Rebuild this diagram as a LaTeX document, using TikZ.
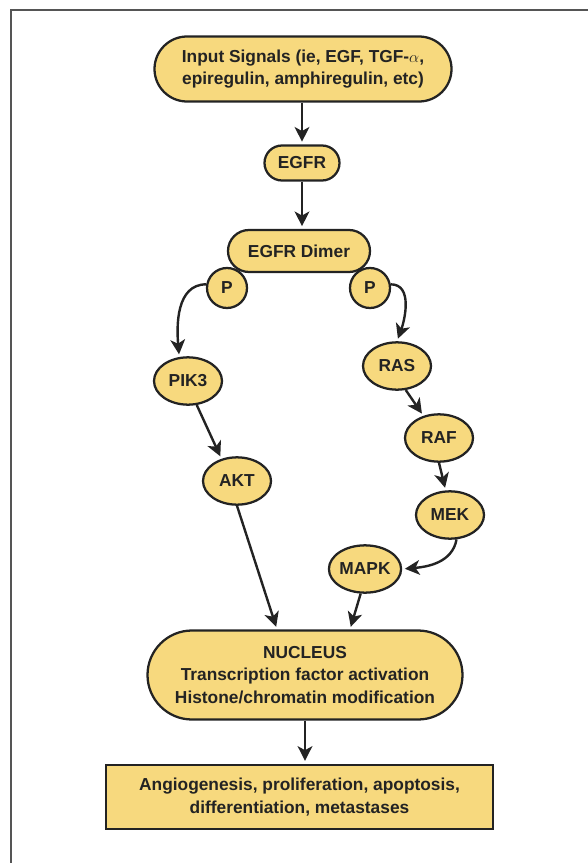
\documentclass[tikz,border=0pt]{standalone}
\usepackage{fontspec}
\setmainfont{Liberation Sans}
\usetikzlibrary{shapes,arrows.meta,positioning,calc}
\definecolor{boxfill}{RGB}{247,217,126}
\definecolor{inkgray}{RGB}{35,35,35}
\definecolor{framegray}{RGB}{85,85,85}

\begin{document}
\begin{tikzpicture}[
x=0.75pt,y=-0.75pt,
pill/.style={
  draw=inkgray,
  fill=boxfill,
  rounded rectangle,
  inner sep=0pt,
  align=center,
  line width=1.7pt
},
blob/.style={
  draw=inkgray,
  fill=boxfill,
  ellipse,
  inner sep=0pt,
  minimum width=51pt,
  minimum height=35.5pt,
  line width=1.7pt
},
phos/.style={
  draw=inkgray,
  fill=boxfill,
  circle,
  inner sep=0pt,
  minimum size=30pt,
  line width=1.7pt
},
outbox/.style={
  draw=inkgray,
  fill=boxfill,
  rectangle,
  inner sep=0pt,
  align=center,
  line width=2.2pt
},
arr/.style={
  -{Stealth[length=11pt,width=11pt,inset=3pt]},
  draw=inkgray,
  line width=1.8pt,
  shorten >=2pt
},
font=\fontsize{13}{17}\selectfont\bfseries,
text=inkgray
]
\useasboundingbox (0,0) rectangle (588,863);
\draw[framegray,line width=1.1pt] (11,863) |- (588,10);

\node[pill,minimum width=222.75pt,minimum height=48.75pt] at (303,69)
  (signals) {Input Signals (ie, EGF, TGF-$\alpha$,\\epiregulin, amphiregulin, etc)};
\node[pill,minimum width=56.25pt,minimum height=26.25pt] at (302,163)
  (egfr) {EGFR};
\node[pill,minimum width=106.5pt,minimum height=31.5pt] at (299,251)
  (dimer) {EGFR Dimer};
\node[phos] at (227,288) (pl) {P};
\node[phos] at (370,288) (pr) {P};

\node[blob] at (188,381) (pik) {PIK3};
\node[blob] at (237,481) (akt) {AKT};

\node[blob] at (397,366) (ras) {RAS};
\node[blob] at (439,438) (raf) {RAF};
\node[blob] at (450,515) (mek) {MEK};
\node[blob] at (365,569) (mapk) {MAPK};

\node[pill,minimum width=236.25pt,minimum height=66.75pt] at (305,675)
  (nucleus) {NUCLEUS\\Transcription factor activation\\Histone/chromatin modification};
\node[outbox,minimum width=290.25pt,minimum height=48pt] at (299.5,797)
  (outcome) {Angiogenesis, proliferation, apoptosis,\\differentiation, metastases};

\draw[arr] (signals.south -| egfr.north) -- (egfr.north);
\draw[arr] (egfr.south) -- (egfr.south |- dimer.north);
\draw[arr] (pl.170) to[out=180,in=95] (pik.110);
\draw[arr] (pr.10) to[out=0,in=70] (ras.north);
\draw[arr] (pik.-70) -- (akt.125);
\draw[arr] (ras.-70) -- (raf.125);
\draw[arr] (raf.-90) -- (mek.100);
\draw[arr] (mek.-75) to[out=-100,in=5] (mapk.east);
\draw[arr] (akt.south) -- ($(nucleus.north)+(-28,0)$);
\draw[arr] (mapk.-100) -- ($(nucleus.north)+(45,0)$);
\draw[arr] (nucleus.south) -- (nucleus.south |- outcome.north);
\end{tikzpicture}
\end{document}
